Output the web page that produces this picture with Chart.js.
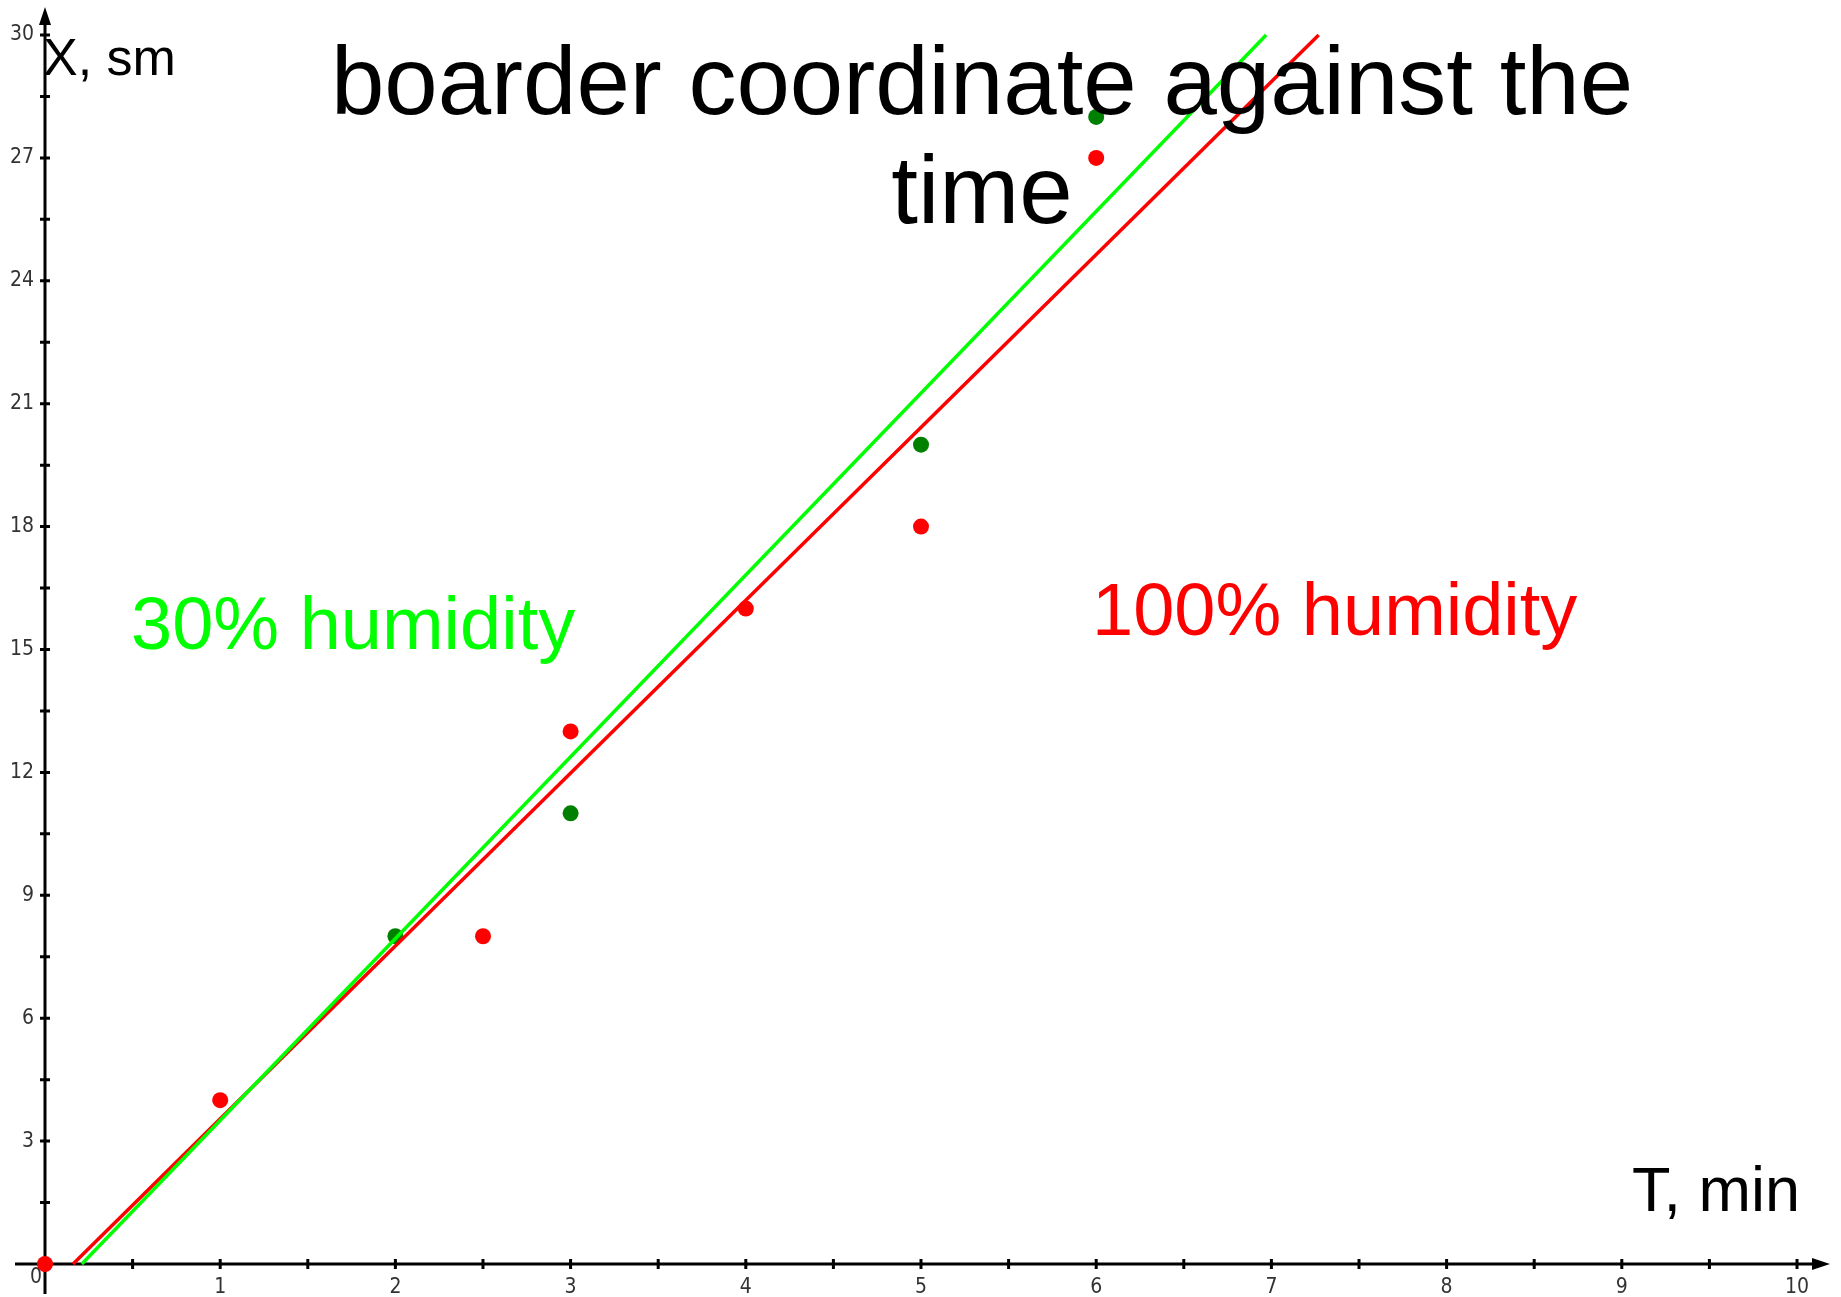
<!DOCTYPE html>
<html>
<head>
<meta charset="utf-8">
<script src="https://cdn.jsdelivr.net/npm/chart.js@4/dist/chart.umd.min.js"></script>
<style>
  html, body { margin: 0; padding: 0; background: #ffffff; }
  #wrap { width: 1841px; height: 1297px; position: relative; }
</style>
</head>
<body>
<div id="wrap"><canvas id="c" width="1841" height="1297"></canvas></div>
<script>
// ---- data ----
const titleLines = ["boarder coordinate against the", "time"];
const yAxisTitle = "X, sm";
const xAxisTitle = "T, min";
const greenLabel = "30% humidity";
const redLabel = "100% humidity";

const greenT = [2, 3, 5, 6];
const greenX = [8, 11, 20, 28];
const redT = [0, 1, 2.5, 3, 4, 5, 6];
const redX = [0, 4, 8, 13, 16, 18, 27];

// trend lines (end points)
const greenFitT = [0.21, 6.97];
const greenFitX = [0, 30];
const redFitT = [0.16, 7.27];
const redFitX = [0, 30];

const xMin = 0, xMax = 10, xStep = 0.5;
const yMin = 0, yMax = 30, yStep = 1.5;

const toPts = (ts, xs) => ts.map((t, i) => ({ x: t, y: xs[i] }));

const tickFont = { family: "'Liberation Sans Narrow', 'DejaVu Sans Condensed', sans-serif", size: 21 };
const tickColor = '#333333';

const axesPlugin = {
  id: 'axesPlugin',
  beforeDatasetsDraw(chart) {
    const ctx = chart.ctx;
    const xs = chart.scales.x, ys = chart.scales.y;
    const ox = xs.getPixelForValue(0), oy = ys.getPixelForValue(0);
    const xEnd = xs.getPixelForValue(xMax), yEnd = ys.getPixelForValue(yMax);
    ctx.save();
    ctx.strokeStyle = '#000';
    ctx.fillStyle = '#000';
    ctx.lineWidth = 3;
    ctx.beginPath();
    ctx.moveTo(ox - 30, oy); ctx.lineTo(xEnd + 22, oy);
    ctx.moveTo(ox, oy + 30); ctx.lineTo(ox, yEnd - 18);
    ctx.stroke();
    // arrows
    ctx.beginPath();
    ctx.moveTo(xEnd + 33, oy); ctx.lineTo(xEnd + 15, oy - 6); ctx.lineTo(xEnd + 15, oy + 6); ctx.closePath();
    ctx.fill();
    ctx.beginPath();
    ctx.moveTo(ox, yEnd - 28); ctx.lineTo(ox - 6, yEnd - 10); ctx.lineTo(ox + 6, yEnd - 10); ctx.closePath();
    ctx.fill();
    // crossing tick marks
    ctx.lineWidth = 3;
    ctx.beginPath();
    xs.ticks.forEach(t => {
      if (t.value === 0) return;
      const p = xs.getPixelForValue(t.value);
      ctx.moveTo(p, oy - 5); ctx.lineTo(p, oy + 5);
    });
    ys.ticks.forEach(t => {
      if (t.value === 0) return;
      const p = ys.getPixelForValue(t.value);
      ctx.moveTo(ox - 5, p); ctx.lineTo(ox + 5, p);
    });
    ctx.stroke();
    // origin label
    ctx.font = tickFont.size + 'px ' + tickFont.family;
    ctx.fillStyle = tickColor;
    ctx.textAlign = 'center';
    ctx.textBaseline = 'middle';
    ctx.fillText('0', ox - 9, oy + 14);
    ctx.restore();
  },
  afterDraw(chart) {
    const ctx = chart.ctx;
    const xs = chart.scales.x, ys = chart.scales.y;
    const ox = xs.getPixelForValue(0);
    ctx.save();
    ctx.textBaseline = 'alphabetic';
    // title
    ctx.fillStyle = '#000';
    ctx.textAlign = 'center';
    ctx.font = "96px 'Liberation Sans', Arial, sans-serif";
    ctx.fillText(titleLines[0], 982, 114);
    ctx.fillText(titleLines[1], 982, 223);
    // axis titles
    ctx.textAlign = 'left';
    ctx.font = "52px 'Liberation Sans', Arial, sans-serif";
    ctx.fillText(yAxisTitle, ox - 2, 75);
    ctx.textAlign = 'right';
    ctx.font = "63px 'Liberation Sans', Arial, sans-serif";
    ctx.fillText(xAxisTitle, 1800, 1211);
    // series labels
    ctx.textAlign = 'left';
    ctx.font = "74px 'Liberation Sans', Arial, sans-serif";
    ctx.fillStyle = '#00ff00';
    ctx.fillText(greenLabel, 131, 649);
    ctx.fillStyle = '#ff0000';
    ctx.fillText(redLabel, 1092, 635);
    ctx.restore();
  }
};

new Chart(document.getElementById('c'), {
  type: 'scatter',
  data: {
    datasets: [
      { label: 'green fit', data: toPts(greenFitT, greenFitX), showLine: true, borderColor: '#00ff00', borderWidth: 3.5, pointRadius: 0, order: 0 },
      { label: 'red fit', data: toPts(redFitT, redFitX), showLine: true, borderColor: '#ff0000', borderWidth: 3.5, pointRadius: 0, order: 0 },
      { label: '30% humidity', data: toPts(greenT, greenX), backgroundColor: '#008000', borderColor: '#008000', pointRadius: 8, borderWidth: 0, order: 1 },
      { label: '100% humidity', data: toPts(redT, redX), backgroundColor: '#ff0000', borderColor: '#ff0000', pointRadius: 8, borderWidth: 0, order: 1 }
    ]
  },
  options: {
    responsive: false,
    devicePixelRatio: 1,
    animation: false,
    clip: false,
    layout: { padding: { top: 35, right: 44, left: 0, bottom: 0 } },
    plugins: { legend: { display: false }, tooltip: { enabled: false }, title: { display: false } },
    scales: {
      x: {
        type: 'linear', position: 'bottom', min: xMin, max: xMax,
        grid: { display: false, drawTicks: false, tickLength: 0 },
        border: { display: false },
        afterFit: s => { s.height = 33; },
        ticks: {
          stepSize: xStep, autoSkip: false, maxRotation: 0, padding: 11,
          font: tickFont, color: tickColor,
          callback: v => (Number.isInteger(v) && v !== 0) ? String(v) : ''
        }
      },
      y: {
        type: 'linear', position: 'left', min: yMin, max: yMax,
        grid: { display: false, drawTicks: false, tickLength: 0 },
        border: { display: false },
        afterFit: s => { s.width = 45; },
        ticks: {
          stepSize: yStep, autoSkip: false, padding: 11,
          font: tickFont, color: tickColor,
          callback: v => (Math.abs(v % 3) < 1e-9 && v !== 0) ? String(v) : ''
        }
      }
    }
  },
  plugins: [axesPlugin]
});
</script>
</body>
</html>
